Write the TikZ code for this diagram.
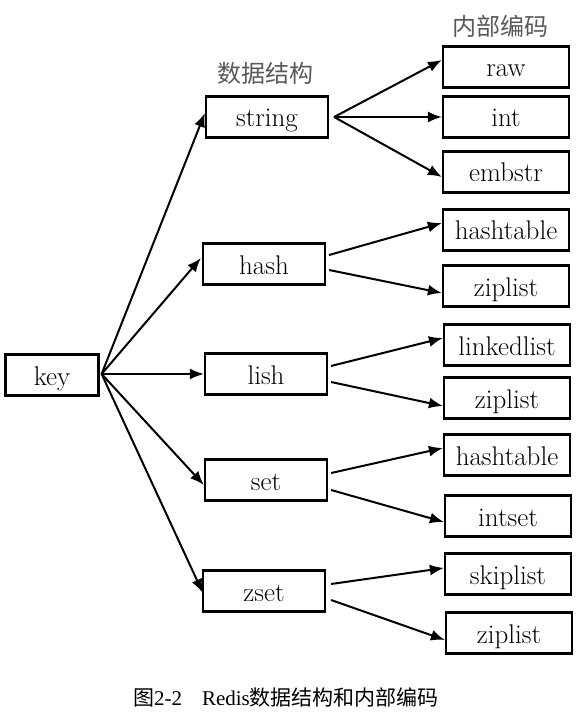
\documentclass[tikz,border=0pt]{standalone}
\usepackage{fontspec}
\newfontfamily\cjk{Noto Sans CJK SC}
\newfontfamily\capserif{Liberation Serif}
\usetikzlibrary{arrows.meta}
\begin{document}
\begin{tikzpicture}[x=1pt,y=-1pt,
  box/.style={draw=black, line width=2.2pt, minimum height=41pt, inner sep=0pt,
    font=\fontsize{27}{30}\selectfont, text height=20pt, text depth=0pt},
  keybox/.style={box, minimum width=93pt},
  dsbox/.style={box, minimum width=122pt},
  encbox/.style={box, minimum width=126pt},
  arr/.style={line width=2pt, -{Latex[length=14pt,width=11pt]}},
  lbl/.style={font=\cjk\fontsize{24}{28}\selectfont, text=black!65}]
\useasboundingbox (0,0) rectangle (586,727);
\fill[white] (0,0) rectangle (586,727);

% nodes
\node[keybox] (key) at (52,375) {key};
\node[dsbox] (string) at (267,117) {string};
\node[dsbox] (hash) at (264,264) {hash};
\node[dsbox] (lish) at (266,374) {lish};
\node[dsbox] (set) at (266,480) {set};
\node[dsbox] (zset) at (264,591) {zset};

\node[encbox] (raw) at (506,67) {raw};
\node[encbox] (int) at (506,117) {int};
\node[encbox] (embstr) at (506,172) {embstr};
\node[encbox] (ht1) at (506,230) {hashtable};
\node[encbox] (zl1) at (506,286) {ziplist};
\node[encbox] (ll) at (507,345) {linkedlist};
\node[encbox] (zl2) at (507,398) {ziplist};
\node[encbox] (ht2) at (507,455) {hashtable};
\node[encbox] (is) at (508,516) {intset};
\node[encbox] (sl) at (508,574) {skiplist};
\node[encbox] (zl3) at (509,633) {ziplist};

\node[lbl] (dslbl) at (265,73) {数据结构};
\node[lbl] (enclbl) at (500,26) {内部编码};

% key -> data structures
\draw[arr] ([xshift=2pt,yshift=1pt]key.east) -- ([yshift=4pt]string.west);
\draw[arr] ([xshift=2pt,yshift=1pt]key.east) -- ([xshift=-1pt,yshift=6pt]hash.west);
\draw[arr] ([xshift=2pt,yshift=1pt]key.east) -- (lish.west);
\draw[arr] ([xshift=2pt,yshift=1pt]key.east) -- ([yshift=-5pt]set.west);
\draw[arr] ([xshift=2pt,yshift=1pt]key.east) -- ([xshift=1pt,yshift=-2pt]zset.west);

% data structures -> encodings
\draw[arr] ([xshift=5pt]string.east) -- ([yshift=7pt]raw.west);
\draw[arr] ([xshift=5pt]string.east) -- (int.west);
\draw[arr] ([xshift=5pt]string.east) -- ([yshift=-5pt]embstr.west);

\draw[arr] ([xshift=3pt,yshift=9pt]hash.east) -- ([yshift=7pt]ht1.west);
\draw[arr] ([xshift=3pt,yshift=-6pt]hash.east) -- ([yshift=-7pt]zl1.west);

\draw[arr] ([xshift=3pt,yshift=8pt]lish.east) -- ([yshift=7pt]ll.west);
\draw[arr] ([xshift=3pt,yshift=-8pt]lish.east) -- ([yshift=-8pt]zl2.west);

\draw[arr] ([xshift=3pt,yshift=7pt]set.east) -- ([yshift=7pt]ht2.west);
\draw[arr] ([xshift=3pt,yshift=-10pt]set.east) -- ([yshift=-6pt]is.west);

\draw[arr] ([xshift=5pt,yshift=7pt]zset.east) -- ([yshift=6pt]sl.west);
\draw[arr] ([xshift=5pt,yshift=-9pt]zset.east) -- ([yshift=-7pt]zl3.west);

% caption
\node[font=\fontsize{21}{25}\selectfont] (cap) at (286,697)
  {{\cjk 图}{\capserif 2-2}\hspace{20pt}{\capserif Redis}{\cjk 数据结构和内部编码}};
\end{tikzpicture}
\end{document}
